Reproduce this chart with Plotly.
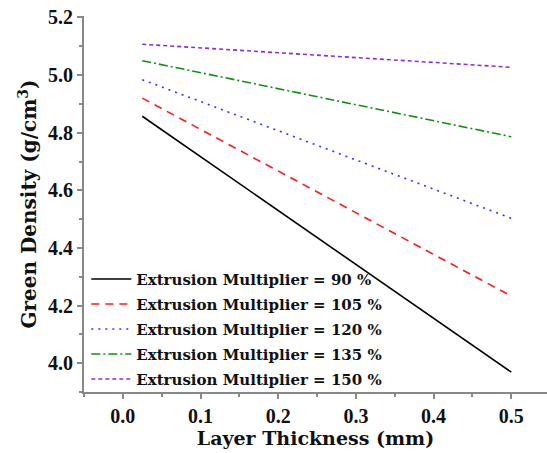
import plotly.graph_objects as go

layer_thickness = [0.025, 0.5]
labels = ["Extrusion Multiplier = 90 %", "Extrusion Multiplier = 105 %",
          "Extrusion Multiplier = 120 %", "Extrusion Multiplier = 135 %",
          "Extrusion Multiplier = 150 %"]
em90 = [4.857, 3.969]
em105 = [4.920, 4.233]
em120 = [4.984, 4.503]
em135 = [5.050, 4.786]
em150 = [5.107, 5.027]
x_ticks = [0.0, 0.1, 0.2, 0.3, 0.4, 0.5]
y_ticks = [4.0, 4.2, 4.4, 4.6, 4.8, 5.0, 5.2]

series = [em90, em105, em120, em135, em150]
colors = ["#000000", "#ff1a1a", "#3333ff", "#109010", "#8a2be2"]
dashes = ["solid", "8px,6px", "2px,5px", "9px,3px,2px,3px", "4px,3px"]

fig = go.Figure()
for i, (lab, ys, c, d) in enumerate(zip(labels, series, colors, dashes)):
    fig.add_trace(go.Scatter(x=layer_thickness, y=ys, mode="lines", name=lab,
                             legendgroup=f"g{i}",
                             line=dict(color=c, width=1.6, dash=d)))

font_fam = "Liberation Serif"
wide_fam = "DejaVu Serif"
fig.update_layout(
    width=547, height=453,
    margin=dict(l=84, r=0, t=16, b=61, autoexpand=False),
    paper_bgcolor="white", plot_bgcolor="white",
    font=dict(family=font_fam, color="#111111"),
    showlegend=True,
    legend=dict(x=0.005, y=-0.01, xanchor="left", yanchor="bottom",
                bgcolor="rgba(0,0,0,0)", font=dict(size=15, family=wide_fam, color="#111111", weight="bold"),
                tracegroupgap=2.5, itemwidth=40),
    xaxis=dict(range=[-0.05, 0.546], showgrid=False, zeroline=False, automargin=False,
               showline=True, linecolor="#888888", linewidth=2,
               ticks="outside", ticklen=5, tickwidth=2, tickcolor="#888888",
               tickvals=x_ticks, ticktext=[f"{v:.1f}" for v in x_ticks],
               tickfont=dict(size=20, family=font_fam, weight="bold"),
               minor=dict(dtick=0.05, ticks="outside", ticklen=3, tickwidth=2, tickcolor="#888888"),
               title=dict(text="Layer Thickness (mm)", standoff=2,
                          font=dict(size=19, family=wide_fam, weight="bold"))),
    yaxis=dict(range=[3.9, 5.205], showgrid=False, zeroline=False, automargin=False,
               showline=True, linecolor="#888888", linewidth=2,
               ticks="outside", ticklen=5, tickwidth=2, tickcolor="#888888",
               tickvals=y_ticks, ticktext=[f"{v:.1f}" for v in y_ticks],
               tickfont=dict(size=20, family=font_fam, weight="bold"),
               minor=dict(dtick=0.1, ticks="outside", ticklen=3, tickwidth=2, tickcolor="#888888"),
               title=dict(text="Green Density (g/cm<sup>3</sup>)", standoff=6,
                          font=dict(size=20, family=wide_fam, weight="bold"))),
)
fig.write_html("out.html", config={"displayModeBar": False},
               post_script="document.body.style.margin='0';")
